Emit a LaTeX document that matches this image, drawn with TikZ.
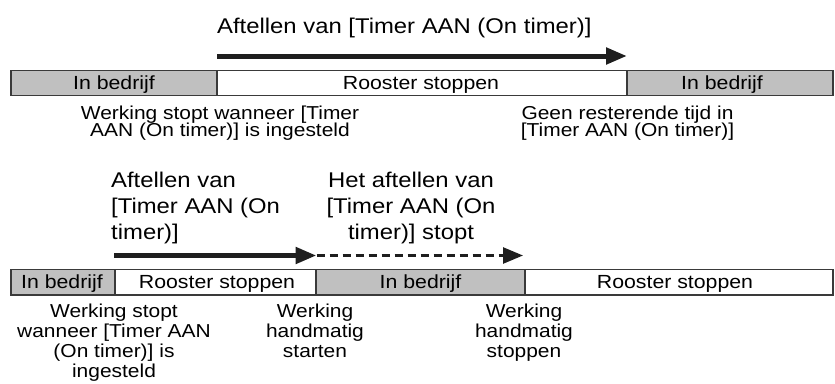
\documentclass[tikz,border=0pt]{standalone}
\usepackage{fontspec}
\setmainfont[FakeStretch=1.12]{Liberation Sans}
\usetikzlibrary{arrows.meta}
\definecolor{opgray}{HTML}{C0C0C0}
\definecolor{barline}{HTML}{3A3A3A}
\definecolor{arrowcol}{HTML}{1E1E1E}
\begin{document}
\begin{tikzpicture}[x=1pt,y=-1pt,
  seg/.style={draw=barline, line width=1.6pt},
  opseg/.style={seg, fill=opgray},
  offseg/.style={seg, fill=white},
  bartext/.style={font=\fontsize{19}{22}\selectfont, anchor=base, inner sep=0pt},
  titletext/.style={font=\fontsize{21.3}{26}\selectfont, inner sep=0pt, anchor=base},
  notetext/.style={font=\fontsize{18.7}{#1}\selectfont, align=center, inner sep=0pt, anchor=base},
  notetext/.default=20,
  bigarrow/.style={draw=arrowcol, line width=5pt, -{Triangle[length=21pt,width=16pt]}},
  dasharrow/.style={draw=arrowcol, line width=2.6pt, dash pattern=on 8pt off 5pt, -{Triangle[length=20pt,width=16pt]}}
]
\useasboundingbox (0,0) rectangle (835,383);

% ---------- top timeline ----------
\node[titletext, anchor=base west] (t1title) at (217,33.5) {Aftellen van [Timer AAN (On timer)]};
\coordinate (t1s) at (217,56);
\coordinate (t1e) at (627,56);
\draw[bigarrow] (t1s) -- (t1e);

\path[opseg] (11,70.5) rectangle (217,95.5);
\path[offseg] (217,70.5) rectangle (627,95.5);
\path[opseg] (627,70.5) rectangle (833,95.5);
\node[bartext] (t1a) at (114,89) {In bedrijf};
\node[bartext] (t1b) at (421,89) {Rooster stoppen};
\node[bartext] (t1c) at (722,89) {In bedrijf};

% multi-line nodes: base anchor = baseline of the last line
\node[notetext=17.5] (t1n1) at (220,136.5) {Werking stopt wanneer [Timer\\AAN (On timer)] is ingesteld};
\node[notetext=17.5] (t1n2) at (627.5,136.5) {Geen resterende tijd in\\[0pt][Timer AAN (On timer)]};

% ---------- bottom timeline ----------
\node[titletext, anchor=base west, align=left] (t2title) at (111,239.3) {Aftellen van\\[0pt][Timer AAN (On\\timer)]};
\node[titletext, align=center] (t3title) at (411,239.3) {Het aftellen van\\[0pt][Timer AAN (On\\timer)] stopt};
\coordinate (t2s) at (114,255.5);
\coordinate (t2e) at (316.5,255.5);
\coordinate (t3e) at (523,255.5);
\draw[bigarrow] (t2s) -- (t2e);
\draw[dasharrow] (t2e) -- (t3e);

\path[opseg] (11,269.5) rectangle (115,295);
\path[offseg] (115,269.5) rectangle (316,295);
\path[opseg] (316,269.5) rectangle (525,295);
\path[offseg] (525,269.5) rectangle (833,295);
\node[bartext] (b1) at (62,288.3) {In bedrijf};
\node[bartext] (b2) at (217,288.3) {Rooster stoppen};
\node[bartext] (b3) at (420.5,288.3) {In bedrijf};
\node[bartext] (b4) at (675,288.3) {Rooster stoppen};

\node[notetext] (b1n) at (114,377) {Werking stopt\\wanneer [Timer AAN\\(On timer)] is\\ingesteld};
\node[notetext] (b2n) at (315,357.5) {Werking\\handmatig\\starten};
\node[notetext] (b3n) at (524,357.5) {Werking\\handmatig\\stoppen};
\end{tikzpicture}
\end{document}
